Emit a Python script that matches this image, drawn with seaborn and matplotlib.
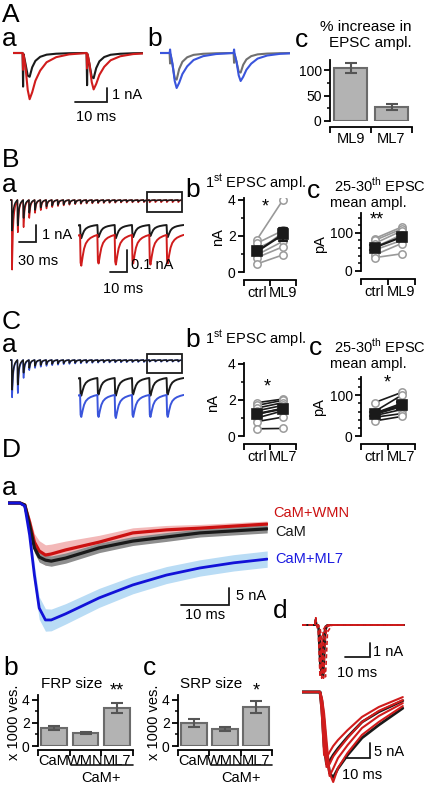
import numpy as np
import pandas as pd
import matplotlib.pyplot as plt
from matplotlib.patches import Rectangle
import seaborn as sns

W, H = 428, 787

# ---------------- data ----------------
# EPSC waveform (ms after stimulus, fraction of peak) used for the example traces
EPSC_T = [0, 0.15, 0.3, 0.9, 1.6, 2.2, 3.0, 4.0, 5.5, 7.5, 10.5, 14.5, 19.9]
FAST_F = [0, 0, 0.05, 0.45, 0.95, 1.0, 0.6, 0.33, 0.16, 0.07, 0.03, 0.01, 0]
SLOW_F = [0, 0, 0.03, 0.3, 0.8, 1.0, 0.85, 0.6, 0.38, 0.2, 0.09, 0.03, 0]
TRAIN_T = [0, 0.3, 0.7, 1.5, 2.3, 3.3, 4.6, 6.0, 8.0, 9.9]
TRAIN_F = [0, 0.9, 1.0, 0.7, 0.45, 0.28, 0.17, 0.1, 0.04, 0]

# A: paired pulses, amplitudes in nA and stimulus artefacts
PP_STIM = [3.0, 23.0]
AA_CTRL, AA_CTRL_ART = [1.7, 1.8], [-2.4, -2.3]
AA_ML9, AA_ML9_ART = [3.3, 2.6], [-1.2, -1.1]
AB_CTRL, AB_CTRL_ART = [1.9, 1.4], [-0.75, -0.7]
AB_ML7, AB_ML7_ART = [2.5, 2.0], [0.25, 0.25]

AC_GROUPS = ['ML9', 'ML7']
AC_MEAN = [104, 27]
AC_SEM = [10, 6]

# B/C: 100 Hz trains, 30 EPSC amplitudes (nA)
TRAIN_STIM = [3 + 10 * k for k in range(30)]
BA_CTRL = [1.8, 1.5, 1.06, 0.76, 0.59, 0.45, 0.38, 0.33, 0.29, 0.26, 0.23, 0.21, 0.19, 0.17, 0.16,
           0.15, 0.14, 0.13, 0.12, 0.11, 0.1, 0.1, 0.09, 0.09, 0.06, 0.055, 0.06, 0.055, 0.05, 0.055]
BA_ML9 = [4.1, 1.9, 1.6, 1.06, 0.76, 0.6, 0.5, 0.42, 0.36, 0.32, 0.28, 0.25, 0.23, 0.21, 0.2,
          0.19, 0.18, 0.17, 0.16, 0.15, 0.15, 0.14, 0.14, 0.13, 0.14, 0.13, 0.135, 0.13, 0.135, 0.13]
CA_CTRL = [1.75, 1.45, 0.75, 0.47, 0.35, 0.3, 0.26, 0.23, 0.21, 0.19, 0.17, 0.16, 0.15, 0.14, 0.13,
           0.12, 0.12, 0.11, 0.11, 0.1, 0.1, 0.1, 0.09, 0.09, 0.08, 0.075, 0.08, 0.075, 0.08, 0.075]
CA_ML7 = [2.2, 1.95, 1.06, 0.6, 0.47, 0.4, 0.35, 0.31, 0.28, 0.25, 0.23, 0.21, 0.2, 0.18, 0.17,
          0.16, 0.15, 0.15, 0.14, 0.14, 0.13, 0.13, 0.12, 0.12, 0.1, 0.1, 0.105, 0.1, 0.1, 0.1]

BB_CTRL = [1.80, 1.60, 1.30, 1.10, 0.95, 0.80, 0.45]
BB_ML9 = [4.00, 2.30, 2.00, 2.20, 1.70, 1.40, 0.95]
BC_CTRL = [85, 80, 72, 62, 55, 42, 35]
BC_ML9 = [115, 110, 105, 95, 80, 72, 45]
CB_CTRL = [1.85, 1.70, 1.55, 1.40, 1.20, 1.00, 0.80, 0.40]
CB_ML7 = [2.05, 1.98, 1.85, 1.70, 1.55, 1.40, 1.05, 0.42]
CC_CTRL = [82, 60, 56, 53, 50, 46, 37]
CC_ML7 = [107, 100, 80, 72, 65, 55, 48]

# D: flash-evoked currents (ms, nA, mean and SEM)
DA_T = [0, 2.5, 3.5, 4.5, 5.5, 6.5, 7.8, 9, 12, 19, 26, 33, 40, 47, 54]
DA_CAM = [0, 0, -0.6, -6.5, -13.2, -15.9, -16.8, -17.1, -16.2, -13.2, -11.2, -10.0, -8.8, -8.2, -7.6]
DA_WMN = [0, 0, -0.6, -5.6, -11.5, -14.1, -15.3, -15.0, -13.8, -11.5, -8.8, -7.9, -7.4, -6.8, -6.2]
DA_ML7 = [0, 0, -0.9, -9.4, -21.2, -30.9, -34.4, -34.4, -32.6, -27.9, -24.1, -21.2, -19.1, -17.6, -16.5]
DA_CAM_SEM = [0, 0, 0.3, 1.0, 1.4, 1.5, 1.5, 1.5, 1.5, 1.4, 1.3, 1.3, 1.2, 1.2, 1.2]
DA_WMN_SEM = [0, 0, 0.4, 1.5, 2.5, 3.0, 3.0, 2.9, 2.6, 2.0, 1.5, 1.3, 1.1, 1.0, 0.9]
DA_ML7_SEM = [0, 0, 0.5, 2.0, 3.0, 3.3, 3.3, 3.2, 3.0, 2.8, 2.6, 2.5, 2.4, 2.4, 2.4]

POOL_GROUPS = ['CaM', 'WMN', 'ML7']
FRP_MEAN, FRP_SEM = [1.55, 1.13, 3.3], [0.17, 0.08, 0.43]
SRP_MEAN, SRP_SEM = [2.0, 1.48, 3.4], [0.34, 0.2, 0.5]

DD_TOP_T = [0, 5.2, 5.5, 5.8, 6.5, 7.2, 7.9, 8.6, 9.4, 10.2, 12, 41]
DD_TOP_RED = [[0, 0, 0.5, 0, -0.4, -3.7, -1.4, -0.3, -0.1, 0, 0, 0],
              [0, 0, 0.5, 0, -0.1, -1.6, -3.8, -1.1, -0.2, 0, 0, 0],
              [0, 0, 0.5, 0, 0, -0.5, -2.4, -3.8, -0.8, -0.1, 0, 0],
              [0, 0, 0.5, 0, 0, -0.2, -1.0, -2.9, -3.7, -0.5, 0, 0]]
DD_TOP_BLACK = [[0, 0, 0.4, 0, -0.2, -2.8, -3.6, -0.8, -0.1, 0, 0, 0],
                [0, 0, 0.4, 0, 0, -0.8, -3.2, -3.6, -0.4, 0, 0, 0]]
DD_BOT_T = [0, 7.5, 8.3, 9.2, 10.2, 11.5, 13, 15, 19, 25, 32, 42]
DD_BOT_RED = [[0, 0, -8, -21, -22, -20, -18, -16, -12.7, -8.3, -5, -1.7],
              [0, 0, -5, -16, -25, -24, -21.5, -19.3, -15.3, -10, -6.3, -2.7],
              [0, 0, -3, -11, -21, -28, -25.5, -22, -17.7, -12, -8, -3.7],
              [0, 0, -2, -7, -16, -27, -30, -25.3, -20.3, -14.3, -10, -4.7]]
DD_BOT_BLACK = [[0, 0, -3, -10, -20, -27, -28.5, -25.5, -21, -15.3, -11, -5.4],
                [0, 0, -6, -18, -24, -23, -21, -18.8, -15, -10, -6.6, -2.9]]

RED = '#d01c1c'
BLUE_A = '#3a55dc'
BLUE_D = '#1212d8'
GRAY_T = '#707070'

# ---------------- style ----------------
sns.set_theme(style='ticks')
plt.rcParams['font.family'] = ['Liberation Sans', 'DejaVu Sans']
plt.rcParams.update({
    'mathtext.fontset': 'custom', 'mathtext.rm': 'Liberation Sans',
    'axes.linewidth': 1.3, 'axes.edgecolor': 'black',
    'xtick.major.width': 1.3, 'ytick.major.width': 1.3,
    'xtick.minor.width': 1.1, 'ytick.minor.width': 1.1,
    'xtick.major.size': 4, 'ytick.major.size': 4,
    'xtick.minor.size': 2.5, 'ytick.minor.size': 2.5,
    'xtick.labelsize': 10, 'ytick.labelsize': 10,
    'xtick.major.pad': 2, 'ytick.major.pad': 2,
    'xtick.color': 'black', 'ytick.color': 'black', 'text.color': 'black',
})

fig = plt.figure(figsize=(W / 100, H / 100), dpi=100)


def rect(x0, y0, x1, y1):
    return [x0 / W, 1 - y1 / H, (x1 - x0) / W, (y1 - y0) / H]


def ftext(x, y, s, **kw):
    fig.text(x / W, 1 - y / H, s, **kw)


def trace_ax(x0, y0, x1, y1, t0, px_ms, base_y, px_na):
    ax = fig.add_axes(rect(x0, y0, x1, y1))
    ax.set_xlim(t0, t0 + (x1 - x0) / px_ms)
    ax.set_ylim(-(y1 - base_y) / px_na, (base_y - y0) / px_na)
    ax.set_autoscale_on(False)
    ax.axis('off')
    ax.patch.set_alpha(0)
    return ax


def pulses(stims, amps, shape_t, shape_f, arts=None, t_end=None):
    t, y = [0.0], [0.0]
    for k, (s, a) in enumerate(zip(stims, amps)):
        for j, (dt, f) in enumerate(zip(shape_t, shape_f)):
            t.append(s + dt)
            y.append(-a * f + (arts[k] if (arts and j == 1) else 0))
    if t_end is not None:
        t.append(t_end)
        y.append(0.0)
    return np.array(t), np.array(y)


def draw(ax, t, y, color, lw, **kw):
    sns.lineplot(x=np.asarray(t, float), y=np.asarray(y, float), ax=ax, color=color, lw=lw,
                 estimator=None, sort=False, **kw)


def scalebar(ax, t, i, dt, di, xtxt, ytxt, xoff, yoff):
    ax.plot([t - dt, t, t], [i, i, i + di], color='k', lw=1.3, clip_on=False,
            solid_joinstyle='miter')
    ax.annotate(ytxt, (t, i + di / 2), xytext=yoff, textcoords='offset pixels',
                ha='left', va='center', fontsize=10.5, annotation_clip=False)
    ax.annotate(xtxt, (t - dt / 2, i), xytext=xoff, textcoords='offset pixels',
                ha='center', va='center', fontsize=10.5, annotation_clip=False)


def cat_axes(ax, labels, ymajor, yminor, out=4, lpad=4):
    sns.despine(ax=ax)
    ax.spines['bottom'].set_position(('outward', out))
    n = len(labels)
    ax.set_xlim(-0.5, n - 0.5)
    ax.set_xticks(np.arange(n + 1) - 0.5)
    ax.set_xticklabels([])
    ax.set_xticks(range(n), labels, minor=True)
    ax.tick_params(axis='x', which='minor', length=0, pad=lpad, labelsize=10.5)
    ax.set_yticks(ymajor)
    ax.set_yticks(yminor, minor=True)
    ax.set_xlabel('')
    ax.set_ylabel('')
    ax.patch.set_alpha(0)


def paired(ax, ctrl, drug, line_color):
    n = len(ctrl)
    df = pd.DataFrame({'cell': list(range(n)) * 2, 'pos': [0] * n + [1] * n,
                       'val': list(ctrl) + list(drug)})
    sns.lineplot(data=df, x='pos', y='val', units='cell', estimator=None, color=line_color,
                 lw=1.2, ax=ax, zorder=1)
    sns.scatterplot(data=df, x='pos', y='val', s=28, facecolor='white', edgecolor='#9a9a9a',
                    linewidth=1.1, ax=ax, zorder=1.5)
    sns.pointplot(data=df, x='pos', y='val', native_scale=True, errorbar='se', color='k',
                  markers='s', markersize=6.5, linewidth=1.6, capsize=0.3, ax=ax)


def bars(ax, groups, mean, sem):
    sns.barplot(x=groups, y=mean, color='#b3b3b3', edgecolor='#6b6b6b', linewidth=1.5,
                width=0.82, errorbar=None, saturation=1, ax=ax)
    ax.errorbar(range(len(groups)), mean, yerr=sem, fmt='none', ecolor='#555555',
                elinewidth=1.5, capsize=4, capthick=1.5, zorder=3)


LET = dict(fontsize=19, va='baseline', ha='left')

# ---------------- panel A ----------------
ftext(2, 22, 'A', **LET)
ftext(2, 46, 'a', **LET)
ftext(147, 46, 'b', **LET)
ftext(295, 47, 'c', **LET)

ax = trace_ax(13, 40, 143, 125, 0, 3.2, 53, 14)
draw(ax, *pulses(PP_STIM, AA_CTRL, EPSC_T, FAST_F, AA_CTRL_ART, 41), 'k', 1.5)
draw(ax, *pulses(PP_STIM, AA_ML9, EPSC_T, SLOW_F, AA_ML9_ART, 41), RED, 1.5)
scalebar(ax, 29.4, -3.5, 10, 1, '10 ms', '1 nA', (5, -15), (5, 0))

ax = trace_ax(160, 40, 290, 125, 0, 3.2, 53, 14)
draw(ax, *pulses(PP_STIM, AB_CTRL, EPSC_T, FAST_F, AB_CTRL_ART, 41), GRAY_T, 1.5)
draw(ax, *pulses(PP_STIM, AB_ML7, EPSC_T, SLOW_F, AB_ML7_ART, 41), BLUE_A, 1.5)

ax = fig.add_axes(rect(330, 60, 412, 121))
bars(ax, AC_GROUPS, AC_MEAN, AC_SEM)
ax.set_ylim(0, 120)
cat_axes(ax, AC_GROUPS, [0, 50, 100], [25, 75], out=4)
ftext(412, 35, '% increase in\nEPSC ampl.', ha='right', va='center', fontsize=11,
      multialignment='right', linespacing=1.2)

# ---------------- panels B and C ----------------
def train_panel(top, ctrl_amp, drug_amp, drug_color, inset_base, inset_off, box, sb):
    base = top + 10
    ax = trace_ax(10, top, 182, top + 85, 0, 172 / 300, base, 17)
    draw(ax, *pulses(TRAIN_STIM, drug_amp, TRAIN_T, TRAIN_F), drug_color, 1.1)
    draw(ax, *pulses(TRAIN_STIM, ctrl_amp, TRAIN_T, TRAIN_F), 'k', 1.1)
    ax.add_patch(Rectangle((239, box[0]), 61, box[1] - box[0], fill=False, ec='k', lw=1.3,
                           clip_on=False))
    if sb:
        scalebar(ax, 45.3, -2.47, 30, 1, '30 ms', '1 nA', (11, -19), (6, -2))
    y0 = inset_base - 7
    ia = trace_ax(78, y0, 184, y0 + 60, 241.8, 1.73, inset_base, 220)
    t, y = pulses(TRAIN_STIM, ctrl_amp, TRAIN_T, TRAIN_F)
    draw(ia, t, y, 'k', 1.4)
    t, y = pulses(TRAIN_STIM, drug_amp, TRAIN_T, TRAIN_F)
    draw(ia, t, y - inset_off, drug_color, 1.4)
    if sb:
        scalebar(ia, 270.2, -0.2136, 10, 0.1, '10 ms', '0.1 nA', (5, -17), (4, -4))


ftext(2, 167, 'B', **LET)
ftext(2, 192, 'a', **LET)
train_panel(190, BA_CTRL, BA_ML9, RED, 225, 0.045, (-0.71, 0.47), True)
ftext(2, 329, 'C', **LET)
ftext(2, 352, 'a', **LET)
train_panel(350, CA_CTRL, CA_ML7, BLUE_A, 378, 0.077, (-0.76, 0.35), False)


def paired_panel(y_top_b, y0_b, y_top_c, y0_c, b_ctrl, b_drug, c_ctrl, c_drug, drug, lc,
                 b_lim, c_lim, stars):
    ax = fig.add_axes(rect(244, y_top_b, 296, y0_b))
    paired(ax, b_ctrl, b_drug, lc)
    ax.set_ylim(0, b_lim)
    cat_axes(ax, ['ctrl', drug], [0, 2, 4], [1, 3], out=6)
    ax.text(stars[0][0], stars[0][1], stars[0][2], ha='center', va='center', fontsize=13)
    ax = fig.add_axes(rect(361, y_top_c, 415, y0_c))
    paired(ax, c_ctrl, c_drug, lc)
    ax.set_ylim(0, c_lim)
    cat_axes(ax, ['ctrl', drug], [0, 100], [20, 40, 60, 80, 120, 140], out=6)
    ax.text(stars[1][0], stars[1][1], stars[1][2], ha='center', va='center', fontsize=13)


paired_panel(198, 272, 213, 271, BB_CTRL, BB_ML9, BC_CTRL, BC_ML9, 'ML9', '#999999',
             4.1, 152, [(0.31, 3.6, '*'), (0.1, 133, '**')])
ftext(185, 197, 'b', **LET)
ftext(307, 198, 'c', **LET)
ftext(256, 183, '1$^{\\rm st}$ EPSC ampl.', ha='center', va='center', fontsize=10.5)
ftext(380, 185, '25-30$^{\\rm th}$ EPSC', ha='center', va='center', fontsize=10.5)
ftext(368, 203, 'mean ampl.', ha='center', va='center', fontsize=10.5)
ftext(218, 237, 'nA', rotation=90, ha='center', va='center', fontsize=10.5)
ftext(320, 244, 'pA', rotation=90, ha='center', va='center', fontsize=10.5)

paired_panel(363, 436, 377, 436, CB_CTRL, CB_ML7, CC_CTRL, CC_ML7, 'ML7', 'k',
             4.05, 145, [(0.38, 2.7, '*'), (0.46, 130, '*')])
ftext(185, 347, 'b', **LET)
ftext(309, 355, 'c', **LET)
ftext(256, 339, '1$^{\\rm st}$ EPSC ampl.', ha='center', va='center', fontsize=10.5)
ftext(380, 346, '25-30$^{\\rm th}$ EPSC', ha='center', va='center', fontsize=10.5)
ftext(368, 364, 'mean ampl.', ha='center', va='center', fontsize=10.5)
ftext(213, 403, 'nA', rotation=90, ha='center', va='center', fontsize=10.5)
ftext(319, 407, 'pA', rotation=90, ha='center', va='center', fontsize=10.5)

# ---------------- panel D ----------------
ftext(2, 457, 'D', **LET)
ftext(2, 495, 'a', **LET)
ax = trace_ax(8, 490, 268, 640, 0, 4.8, 503, 3.4)
t = np.array(DA_T, float)
for m, s, c in [(DA_WMN, DA_WMN_SEM, '#f3b8b8'), (DA_CAM, DA_CAM_SEM, '#8e8e8e'),
                (DA_ML7, DA_ML7_SEM, '#b9dcf5')]:
    m, s = np.array(m), np.array(s)
    ax.fill_between(t, m - s, m + s, color=c, lw=0)
draw(ax, DA_T, DA_WMN, '#cc1111', 2.3)
draw(ax, DA_T, DA_CAM, 'k', 2.3)
draw(ax, DA_T, DA_ML7, BLUE_D, 2.0)
ax.text(55.2, -2.9, 'CaM+WMN', color='#cc1111', fontsize=10.5, va='center', clip_on=False)
ax.text(55.6, -8.5, 'CaM', color='k', fontsize=10.5, va='center', clip_on=False)
ax.text(55.6, -16.5, 'CaM+ML7', color='#1a1ae0', fontsize=10.5, va='center', clip_on=False)
scalebar(ax, 46.0, -30, 10, 5, '10 ms', '5 nA', (0, -10), (7, 0))

ftext(273, 618, 'd', **LET)
ax = trace_ax(302, 612, 405, 690, 0, 2.5, 625, 14)
for tr in DD_TOP_BLACK:
    draw(ax, DD_TOP_T, tr, 'k', 1.4)
for tr in DD_TOP_RED:
    draw(ax, DD_TOP_T, tr, RED, 1.2, linestyle=(0, (2.5, 1.5)))
scalebar(ax, 27.2, -2.29, 10, 1, '10 ms', '1 nA', (0, -16), (3, -2))

ax = trace_ax(302, 680, 405, 787, 0, 2.4, 692, 3)
for tr in DD_BOT_BLACK:
    draw(ax, DD_BOT_T, tr, 'k', 2.0)
for tr in DD_BOT_RED:
    draw(ax, DD_BOT_T, tr, RED, 1.5)
scalebar(ax, 28.3, -22, 10, 5, '10 ms', '5 nA', (4, -17), (4, -2))

for x0, x1, mean, sem, title, star, lab in [
        (38, 133, FRP_MEAN, FRP_SEM, 'FRP size', '**', 'b'),
        (178, 272, SRP_MEAN, SRP_SEM, 'SRP size', '*', 'c')]:
    ax = fig.add_axes(rect(x0, 695, x1, 746))
    bars(ax, POOL_GROUPS, mean, sem)
    ax.set_ylim(0, 4.43)
    cat_axes(ax, POOL_GROUPS, [0, 2, 4], [1, 3], out=3, lpad=3)
    ax.text(2, 4.75, star, ha='center', va='center', fontsize=13, clip_on=False)
    ax.plot([0.55, 2.5], [-1.62, -1.62], color='k', lw=1.2, clip_on=False)
    ax.text(1.5, -2.8, 'CaM+', ha='center', va='center', fontsize=10.5, clip_on=False)
    ftext(x0 + (x1 - x0) * 0.35, 684, title, ha='center', va='center', fontsize=11)
    ftext(x0 - 24, 722, 'x 1000 ves.', rotation=90, ha='center', va='center', fontsize=10.5)
    ftext(x0 - 35, 675, lab, **LET)

fig.savefig('out.png', dpi=100)
